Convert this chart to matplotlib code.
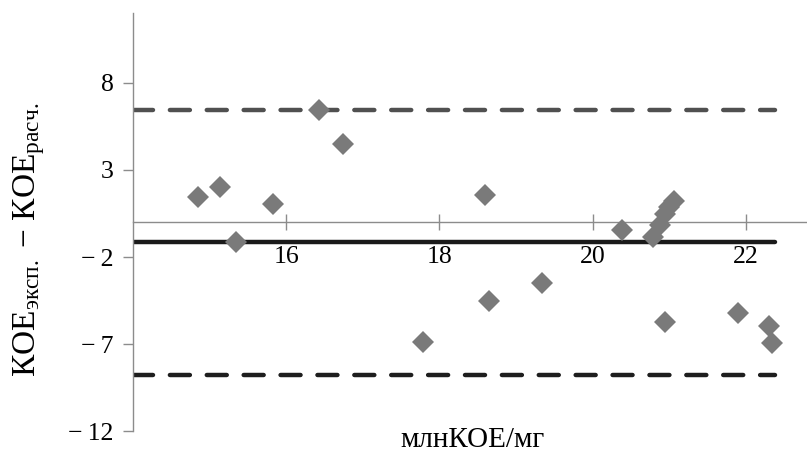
import numpy as np
import matplotlib.pyplot as plt

plt.rcParams['font.family'] = ['Liberation Serif', 'DejaVu Serif']
plt.rcParams['mathtext.fontset'] = 'custom'
plt.rcParams['mathtext.rm'] = 'Liberation Serif'
plt.rcParams['mathtext.it'] = 'Liberation Serif:italic'

# mean value (млнКОЕ/мг) and difference КОЕэксп. - КОЕрасч.
mean_vals = [14.85, 15.13, 15.35, 15.83, 16.43, 16.74, 17.78, 18.60, 18.65, 19.34,
             20.39, 20.79, 20.88, 20.95, 21.00, 21.06, 20.95, 21.90, 22.30, 22.34]
diff_vals = [1.42, 2.0, -1.15, 1.05, 6.45, 4.5, -6.86, 1.57, -4.55, -3.5,
             -0.44, -0.85, -0.15, 0.45, 0.9, 1.2, -5.75, -5.22, -5.98, -6.94]

bias = -1.15
upper_loa = 6.45
lower_loa = -8.8
line_span = [14.0, 22.38]

yticks = [-12, -7, -2, 3, 8]
ytick_labels = ['\u2212\u200912', '\u2212\u20097', '\u2212\u20092', '3', '8']
xticks = [16, 18, 20, 22]

fig = plt.figure(figsize=(8.07, 4.61), dpi=100)
ax = fig.add_axes([0.1648, 0.065, 0.8352, 0.906])

# limits of agreement and mean difference
ax.plot(line_span, [upper_loa] * 2, color='#505050', lw=3.2, dashes=(4.5, 3.8),
        dash_capstyle='round')
ax.plot(line_span, [lower_loa] * 2, color='#1e1e1e', lw=3.2, dashes=(4.5, 3.8),
        dash_capstyle='round')
ax.plot(line_span, [bias] * 2, color='#1a1a1a', lw=3.2, solid_capstyle='round')

ax.plot(mean_vals, diff_vals, linestyle='none', marker='D', markersize=11,
        color='#7a7a7a', markeredgewidth=0, zorder=3)

ax.set_xlim(14, 22.8)
ax.set_ylim(-12, 12)

for s in ['top', 'right']:
    ax.spines[s].set_visible(False)
ax.spines['bottom'].set_position(('data', 0))
for s in ['left', 'bottom']:
    ax.spines[s].set_color('#8c8c8c')
    ax.spines[s].set_linewidth(1.0)

ax.set_yticks(yticks)
ax.set_yticklabels(ytick_labels)
ax.set_xticks(xticks)
ax.tick_params(axis='y', direction='out', length=7, width=1, color='#8c8c8c',
               labelsize=18.5, pad=7)
ax.tick_params(axis='x', direction='inout', length=12, width=1, color='#8c8c8c',
               labelsize=18.5, pad=11)

fig.text(0.036, 0.48, 'КОЕ$_{\\mathrm{эксп.}}$ \u2212 КОЕ$_{\\mathrm{расч.}}$',
         fontsize=24, rotation=90, ha='center', va='center')
fig.text(0.585, 0.045, 'млнКОЕ/мг', fontsize=21, ha='center', va='center')

fig.savefig('out.png', dpi=100)
